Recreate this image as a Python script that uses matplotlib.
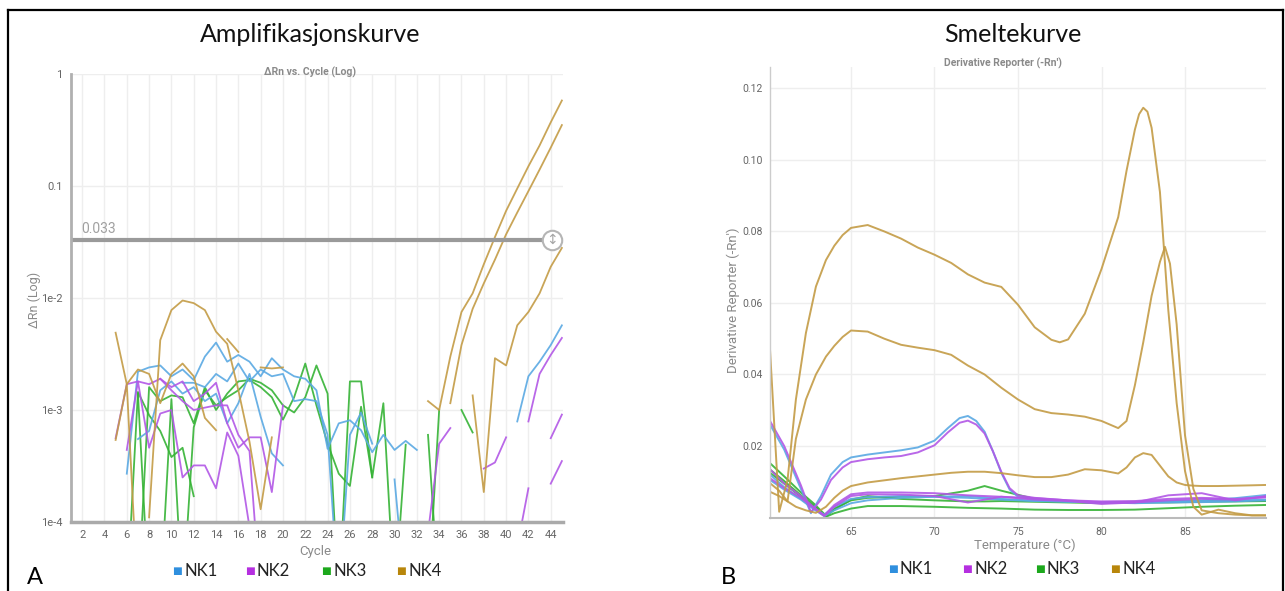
import numpy as np
import matplotlib.pyplot as plt
from matplotlib.lines import Line2D

# ------------------------------------------
# DATA
# ------------------------------------------

CYCLES = np.arange(1, 46)
THRESHOLD = 0.033

# amplification traces: (first cycle, dRn values); 2e-5 = below the axis
amp_nk1 = [
    (6, [2.7e-4, 2.2e-3, 2.4e-3, 2.5e-3, 2.0e-3, 2.3e-3, 1.85e-3, 3.0e-3, 4.0e-3, 2.7e-3,
         3.1e-3, 2.7e-3, 2.0e-3, 2.9e-3, 2.3e-3, 2.0e-3, 1.9e-3, 1.5e-3, 4.5e-4, 7.6e-4,
         8.1e-4, 6.6e-4, 4.2e-4, 6.0e-4, 4.4e-4, 5.3e-4, 4.4e-4]),
    (7, [5.5e-4, 6.5e-4, 1.5e-3, 1.8e-3, 1.4e-3, 1.6e-3, 1.2e-3, 1.4e-3, 7.6e-4, 1.15e-3,
         2.1e-3, 8.7e-4, 4.1e-4, 3.2e-4]),
    (11, [1.75e-3, 1.75e-3, 1.6e-3, 2.1e-3, 1.8e-3, 2.6e-3, 1.8e-3, 2.3e-3, 2.0e-3, 2.1e-3,
          1.2e-3, 1.25e-3, 1.2e-3, 6.0e-4, 2e-5, 6.0e-4, 9.5e-4, 5.0e-4]),
    (30, [2.4e-4, 2e-5]),
    (41, [7.9e-4, 2.0e-3, 2.7e-3, 3.8e-3, 5.7e-3]),
]

amp_nk2 = [
    (5, [5.6e-4, 1.7e-3, 1.8e-3, 1.7e-3, 1.9e-3, 1.6e-3, 1.8e-3, 1.2e-3, 1.4e-3, 1.75e-3,
         7.6e-4, 4.6e-4, 5.7e-4, 5.7e-4, 1.85e-4, 1.1e-3]),
    (6, [4.4e-4, 1.8e-3, 4.6e-4, 9.3e-4, 1.0e-3, 2.5e-4, 3.2e-4, 3.2e-4, 2.0e-4, 6.3e-4,
         3.9e-4, 9e-5]),
    (9, [1.9e-3, 1.5e-3, 1.2e-3, 1.0e-3, 1.05e-3, 1.1e-3, 1.1e-3, 6.0e-4, 4.3e-4, 2e-5]),
    (33, [8e-5, 5.0e-4, 6.9e-4]),
    (38, [3.0e-4, 3.4e-4, 5.7e-4]),
    (41, [6e-5, 2.0e-4]),
    (42, [7.9e-4, 2.1e-3, 3.1e-3, 4.4e-3]),
    (44, [5.6e-4, 9.1e-4]),
    (44, [2.2e-4, 3.5e-4]),
]

amp_nk3 = [
    (6, [2e-5, 1.45e-3, 9.0e-4, 6.5e-4, 3.8e-4, 4.6e-4, 1.7e-4]),
    (7, [1.4e-3, 2e-5]),
    (7, [2e-5, 1.6e-3, 1.2e-3, 1.35e-3, 1.3e-3, 7.6e-4, 1.6e-3, 1.0e-3, 1.4e-3, 1.8e-3,
         1.85e-3, 1.6e-3, 1.3e-3, 8.2e-4, 1.3e-3, 2.6e-3, 1.1e-3, 5.0e-4, 2.7e-4, 2.1e-4,
         1.07e-3, 2.5e-4]),
    (9, [2e-5, 1.25e-3, 2e-5]),
    (11, [2e-5, 7.0e-4, 1.5e-3, 1.1e-3, 1.3e-3, 1.5e-3, 1.9e-3, 1.75e-3, 1.5e-3, 1.1e-3,
          9.5e-4, 1.3e-3, 2.5e-3, 1.4e-3, 2e-5, 1.8e-3, 1.8e-3, 2.5e-4, 1.15e-3, 2e-5]),
    (30, [2e-5, 4.9e-4]),
    (33, [6.0e-4, 2e-5]),
    (33, [2e-5, 1.0e-3]),
    (36, [1.0e-3, 6.3e-4]),
]

amp_nk4 = [
    (8, [1.1e-4, 4.2e-3, 7.8e-3, 9.5e-3, 9.0e-3, 7.8e-3, 5.0e-3, 3.9e-3, 1.5e-3, 5.2e-4,
         1.3e-4, 5.7e-4]),
    (5, [4.9e-3, 1.7e-3, 2.3e-3, 2.1e-3, 1.15e-3, 2.1e-3, 2.6e-3, 2.0e-3, 8.5e-4, 6.6e-4]),
    (5, [5.4e-4, 1.7e-3, 2e-5]),
    (15, [4.3e-3, 3.3e-3]),
    (18, [2.4e-3, 2.35e-3, 2.4e-3]),
    (33, [1.2e-3, 1.0e-3, 3.0e-3, 7.5e-3, 1.1e-2, 2.0e-2, 3.5e-2, 6.0e-2, 9.5e-2, 0.15,
          0.23, 0.37, 0.58]),
    (35, [1.15e-3, 3.8e-3, 8.0e-3, 1.35e-2, 2.2e-2, 3.7e-2, 5.8e-2, 9.0e-2, 0.14, 0.22, 0.35]),
    (37, [1.35e-3, 1.85e-4, 2.9e-3, 2.5e-3, 5.7e-3, 7.5e-3, 1.1e-2, 1.9e-2, 2.8e-2]),
]

# melt curves: (temperatures, -dRn/dT)
melt_nk1 = [
    ([60.15, 61, 62, 62.6, 63.2, 63.8, 64.5, 65, 66, 67, 68, 69, 70, 70.8, 71.5, 72, 72.5,
      73, 73.5, 74, 74.5, 75, 76, 78, 80, 82, 84, 86, 88, 89.85],
     [0.026, 0.019, 0.008, 0.0012, 0.006, 0.012, 0.0155, 0.0168, 0.0176, 0.0182, 0.0188,
      0.0196, 0.0215, 0.025, 0.0278, 0.0284, 0.027, 0.024, 0.0185, 0.0125, 0.0078, 0.0058,
      0.005, 0.0045, 0.0041, 0.0042, 0.0044, 0.0048, 0.0054, 0.0063]),
    ([60.15, 61, 62, 62.8, 63.4, 64, 65, 66, 68, 70, 72, 74, 76, 78, 80, 82, 84, 86, 88, 89.85],
     [0.012, 0.0085, 0.0052, 0.0025, 0.0008, 0.003, 0.0052, 0.0057, 0.006, 0.0058, 0.0055,
      0.005, 0.0046, 0.0044, 0.0042, 0.0043, 0.0044, 0.0045, 0.0048, 0.005]),
    ([60.15, 61, 62, 62.8, 63.4, 64, 65, 66, 68, 70, 72, 74, 76, 78, 80, 82, 84, 86, 88, 89.85],
     [0.0105, 0.0078, 0.005, 0.0022, 0.0004, 0.002, 0.004, 0.0048, 0.0055, 0.0058, 0.006,
      0.0052, 0.0047, 0.0045, 0.0042, 0.004, 0.0042, 0.0043, 0.0045, 0.0048]),
]

melt_nk2 = [
    ([60.15, 61, 62, 62.6, 63.2, 63.8, 64.5, 65, 66, 67, 68, 69, 70, 70.8, 71.5, 72, 72.5,
      73, 73.5, 74, 74.5, 75, 76, 78, 80, 82, 84, 86, 88, 89.85],
     [0.027, 0.020, 0.009, 0.0015, 0.005, 0.0105, 0.014, 0.0155, 0.0163, 0.0168, 0.0172,
      0.0182, 0.0202, 0.0238, 0.0265, 0.0271, 0.026, 0.0235, 0.0185, 0.0128, 0.0082, 0.0062,
      0.0055, 0.0048, 0.0042, 0.0042, 0.0062, 0.0068, 0.0048, 0.006]),
    ([60.15, 61, 62, 62.8, 63.4, 64, 65, 66, 68, 70, 72, 74, 76, 78, 80, 82, 84, 86, 88, 89.85],
     [0.0135, 0.0095, 0.006, 0.0028, 0.0006, 0.0035, 0.0065, 0.007, 0.007, 0.0068, 0.0062,
      0.0058, 0.0054, 0.0048, 0.0045, 0.0046, 0.0052, 0.0055, 0.0052, 0.0056]),
    ([60.15, 61, 62, 62.8, 63.4, 64, 65, 66, 68, 70, 72, 74, 76, 78, 80, 82, 84, 86, 88, 89.85],
     [0.011, 0.0082, 0.0055, 0.0025, 0.0004, 0.003, 0.006, 0.0065, 0.0064, 0.006, 0.0042,
      0.0058, 0.005, 0.0046, 0.0038, 0.0042, 0.0048, 0.0052, 0.005, 0.0058]),
]

melt_nk3 = [
    ([60.15, 61, 62, 62.8, 63.5, 64, 65, 66, 68, 70, 72, 73, 74, 76, 78, 80, 82, 84, 86, 88, 89.85],
     [0.0152, 0.0115, 0.007, 0.0038, 0.0005, 0.0025, 0.0048, 0.0055, 0.0058, 0.006, 0.0075,
      0.0088, 0.0075, 0.0052, 0.0045, 0.0042, 0.0044, 0.0045, 0.0046, 0.0046, 0.0047]),
    ([60.15, 61, 62, 62.8, 63.5, 64, 65, 66, 68, 70, 72, 73, 74, 76, 78, 80, 82, 84, 86, 88, 89.85],
     [0.0134, 0.0102, 0.0062, 0.0033, 0.0002, 0.0012, 0.0025, 0.0032, 0.0032, 0.003, 0.0027,
      0.0026, 0.0025, 0.0022, 0.0021, 0.0021, 0.0022, 0.0026, 0.003, 0.0033, 0.0035]),
    ([60.15, 61, 62, 62.8, 63.5, 64, 65, 66, 68, 70, 72, 73, 74, 76, 78, 80, 82, 84, 86, 88, 89.85],
     [0.0125, 0.0095, 0.0058, 0.003, 0.0003, 0.0022, 0.005, 0.006, 0.0052, 0.0048, 0.0045,
      0.0045, 0.0046, 0.0044, 0.0042, 0.004, 0.0042, 0.0042, 0.0044, 0.0045, 0.0046]),
]

melt_nk4 = [
    ([60.15, 60.7, 61.2, 61.7, 62.3, 62.9, 63.5, 64, 64.5, 65, 66, 67, 68, 69, 70, 71, 72,
      73, 74, 75, 76, 77, 77.5, 78, 79, 80, 81, 81.5, 82, 82.25, 82.5, 82.75, 83, 83.5, 84,
      84.5, 85, 85.5, 86, 87, 88, 89, 89.85],
     [0.047, 0.0016, 0.0105, 0.033, 0.0516, 0.0646, 0.072, 0.076, 0.079, 0.081, 0.0818,
      0.080, 0.078, 0.0755, 0.0735, 0.0712, 0.068, 0.0657, 0.0645, 0.0595, 0.0532, 0.0497,
      0.049, 0.0498, 0.057, 0.0695, 0.084, 0.097, 0.1085, 0.1128, 0.1146, 0.1135, 0.109,
      0.091, 0.058, 0.032, 0.013, 0.003, 0.0008, 0.0022, 0.0012, 0.0006, 0.0006]),
    ([60.15, 60.7, 61.2, 61.7, 62.3, 62.9, 63.5, 64, 64.5, 65, 66, 67, 68, 69, 70, 71, 72,
      73, 74, 75, 76, 77, 78, 79, 80, 81, 81.5, 82, 82.5, 83, 83.5, 83.8, 84.1, 84.5, 85,
      85.5, 86, 87, 88, 89, 89.85],
     [0.0096, 0.0075, 0.0045, 0.022, 0.033, 0.040, 0.045, 0.048, 0.0505, 0.0523, 0.052,
      0.050, 0.0483, 0.0475, 0.0468, 0.0455, 0.0425, 0.040, 0.0363, 0.033, 0.0303, 0.0292,
      0.0288, 0.0282, 0.027, 0.025, 0.027, 0.037, 0.049, 0.062, 0.0715, 0.0757, 0.071,
      0.054, 0.023, 0.008, 0.002, 0.0012, 0.0008, 0.0006, 0.0006]),
    ([60.15, 60.7, 61.2, 61.7, 62.3, 62.9, 63.5, 64, 64.5, 65, 66, 67, 68, 69, 70, 71, 72,
      73, 74, 75, 76, 77, 78, 79, 80, 81, 81.5, 82, 82.5, 83, 83.5, 84, 84.5, 85, 85.5, 86,
      87, 88, 89, 89.85],
     [0.0072, 0.006, 0.0045, 0.003, 0.002, 0.0013, 0.003, 0.0055, 0.0075, 0.0088, 0.0098,
      0.0104, 0.011, 0.0115, 0.012, 0.0125, 0.0128, 0.0128, 0.0124, 0.0118, 0.0113, 0.0113,
      0.012, 0.0135, 0.0132, 0.0123, 0.014, 0.0168, 0.018, 0.0175, 0.0145, 0.0115, 0.0098,
      0.0091, 0.0089, 0.0088, 0.0088, 0.0089, 0.009, 0.0091]),
]

GROUPS = ["NK1", "NK2", "NK3", "NK4"]
LINE_COLORS = {"NK1": "#5aa9e3", "NK2": "#b257e6", "NK3": "#35b335", "NK4": "#c39b45"}
KEY_COLORS = {"NK1": "#2f8fde", "NK2": "#b52fe0", "NK3": "#1ca81c", "NK4": "#b8860b"}

AMP_TICKS = [1e-4, 1e-3, 1e-2, 0.1, 1]
AMP_TICK_LABELS = ["1e-4", "1e-3", "1e-2", "0.1", "1"]
CYCLE_TICKS = list(range(2, 46, 2))
MELT_TICKS = [0.02, 0.04, 0.06, 0.08, 0.10, 0.12]
MELT_TICK_LABELS = ["0.02", "0.04", "0.06", "0.08", "0.10", "0.12"]
TEMP_TICKS = [65, 70, 75, 80, 85]

# ------------------------------------------
# FIGURE
# ------------------------------------------

W, H = 1285, 591
fig = plt.figure(figsize=(W / 100, H / 100), dpi=100)
fig.patch.set_facecolor("white")

CHART_FONT = "Roboto"
HEAD_FONT = "Lato"


def fx(x):
    return x / W


def fy(y):
    return 1 - y / H


def style_axes(ax, size):
    for s in ["top", "right"]:
        ax.spines[s].set_visible(False)
    ax.tick_params(length=0, labelsize=size, labelcolor="#666666")
    for lab in ax.get_xticklabels() + ax.get_yticklabels():
        lab.set_fontfamily(CHART_FONT)
    ax.set_axisbelow(True)


# ---- amplification plot (log) ----
ax1 = fig.add_axes([fx(71), fy(522), fx(563) - fx(71), fy(74) - fy(522)])
ax1.set_yscale("log")
ax1.set_xlim(1, 45.1)
ax1.set_ylim(1e-4, 1)
ax1.set_yticks(AMP_TICKS)
ax1.set_yticklabels(AMP_TICK_LABELS)
ax1.yaxis.set_minor_locator(plt.NullLocator())
ax1.set_xticks(CYCLE_TICKS)
ax1.grid(True, color="#eeeeee", lw=1)
style_axes(ax1, 8)
ax1.tick_params(axis="x", pad=6)
ax1.tick_params(axis="y", pad=6)
ax1.spines["left"].set_color("#b0b0b0")
ax1.spines["left"].set_linewidth(2)
ax1.spines["bottom"].set_color("#aaaaaa")
ax1.spines["bottom"].set_linewidth(2.5)

amp_data = {"NK1": amp_nk1, "NK2": amp_nk2, "NK3": amp_nk3, "NK4": amp_nk4}
for name in ["NK3", "NK1", "NK2", "NK4"]:
    for start, vals in amp_data[name]:
        series = np.full(len(CYCLES), np.nan)
        series[start - 1:start - 1 + len(vals)] = vals
        ax1.plot(CYCLES, series, color=LINE_COLORS[name], lw=1.3, alpha=0.9)

# threshold bar with its drag handle
ax1.plot([1, 43.3], [THRESHOLD, THRESHOLD], color="#9a9a9a", lw=3, solid_capstyle="butt")
ax1.plot([44.1], [THRESHOLD], "o", ms=14, mfc="white", mec="#b5b5b5", mew=1.5, clip_on=False)
ax1.text(44.1, THRESHOLD, "↕", ha="center", va="center", fontsize=10, color="#a5a5a5",
         family="DejaVu Sans")
ax1.text(1.9, THRESHOLD * 1.08, f"{THRESHOLD:.3f}", fontsize=10, color="#a0a0a0",
         family=CHART_FONT, va="bottom")

# ---- melt curve plot ----
ax2 = fig.add_axes([fx(770), fy(517.5), fx(1266) - fx(770), fy(67) - fy(517.5)])
ax2.set_xlim(60.15, 89.85)
ax2.set_ylim(0, 0.126)
ax2.set_yticks(MELT_TICKS)
ax2.set_yticklabels(MELT_TICK_LABELS)
ax2.set_xticks(TEMP_TICKS)
ax2.grid(True, color="#eeeeee", lw=1)
style_axes(ax2, 7.5)
ax2.tick_params(axis="x", pad=7)
ax2.tick_params(axis="y", pad=5)
ax2.spines["left"].set_color("#cccccc")
ax2.spines["left"].set_linewidth(1)
ax2.spines["bottom"].set_color("#bbbbbb")
ax2.spines["bottom"].set_linewidth(1.5)

melt_data = {"NK1": melt_nk1, "NK2": melt_nk2, "NK3": melt_nk3, "NK4": melt_nk4}
for name in ["NK3", "NK1", "NK2", "NK4"]:
    for temps, vals in melt_data[name]:
        ax2.plot(temps, vals, color=LINE_COLORS[name], lw=1.4, alpha=0.9,
                 solid_joinstyle="round")

# ---- headings and axis titles ----
fig.text(fx(310), fy(35), "Amplifikasjonskurve", ha="center", va="center",
         fontsize=18, family=HEAD_FONT, color="#111111")
fig.text(fx(1013), fy(35), "Smeltekurve", ha="center", va="center",
         fontsize=18, family=HEAD_FONT, color="#111111")
fig.text(fx(310), fy(72), "ΔRn vs. Cycle (Log)", ha="center", va="center",
         fontsize=7.5, weight="bold", family=CHART_FONT, color="#8a8a8a")
fig.text(fx(1003), fy(63), "Derivative Reporter (-Rn')", ha="center", va="center",
         fontsize=7.5, weight="bold", family=CHART_FONT, color="#8a8a8a")

fig.text(fx(34), fy(300), "ΔRn (Log)", rotation=90, ha="center", va="center",
         fontsize=9, family=CHART_FONT, color="#8a8a8a")
fig.text(fx(733), fy(300), "Derivative Reporter (-Rn')", rotation=90, ha="center",
         va="center", fontsize=9.5, family=CHART_FONT, color="#8a8a8a")
fig.text(fx(315), fy(552), "Cycle", ha="center", va="center",
         fontsize=9.5, family=CHART_FONT, color="#8a8a8a")
fig.text(fx(1025), fy(545), "Temperature (°C)", ha="center", va="center",
         fontsize=9.5, family=CHART_FONT, color="#8a8a8a")

# ---- keys ----
key_left = [177, 250, 326, 401]
key_right = [893, 967, 1040, 1115]
for xs, ky in [(key_left, 571), (key_right, 569)]:
    for x, name in zip(xs, GROUPS):
        fig.text(fx(x), fy(ky), "■", ha="center", va="center", fontsize=7.5,
                 color=KEY_COLORS[name], family="DejaVu Sans")
        fig.text(fx(x + 7), fy(ky), name, ha="left", va="center", fontsize=12,
                 family=HEAD_FONT, color="#222222")

fig.text(fx(35), fy(578), "A", ha="center", va="center", fontsize=17, family=HEAD_FONT)
fig.text(fx(728), fy(578), "B", ha="center", va="center", fontsize=17, family=HEAD_FONT)

# ---- outer frame ----
for xs, ys in [([8, 8], [10, 600]), ([8, 1283], [10, 10]), ([1283, 1283], [10, 600])]:
    fig.add_artist(Line2D([fx(x) for x in xs], [fy(y) for y in ys], color="black", lw=1.6))

fig.savefig("out.png", dpi=100)
print("Saved: out.png")
